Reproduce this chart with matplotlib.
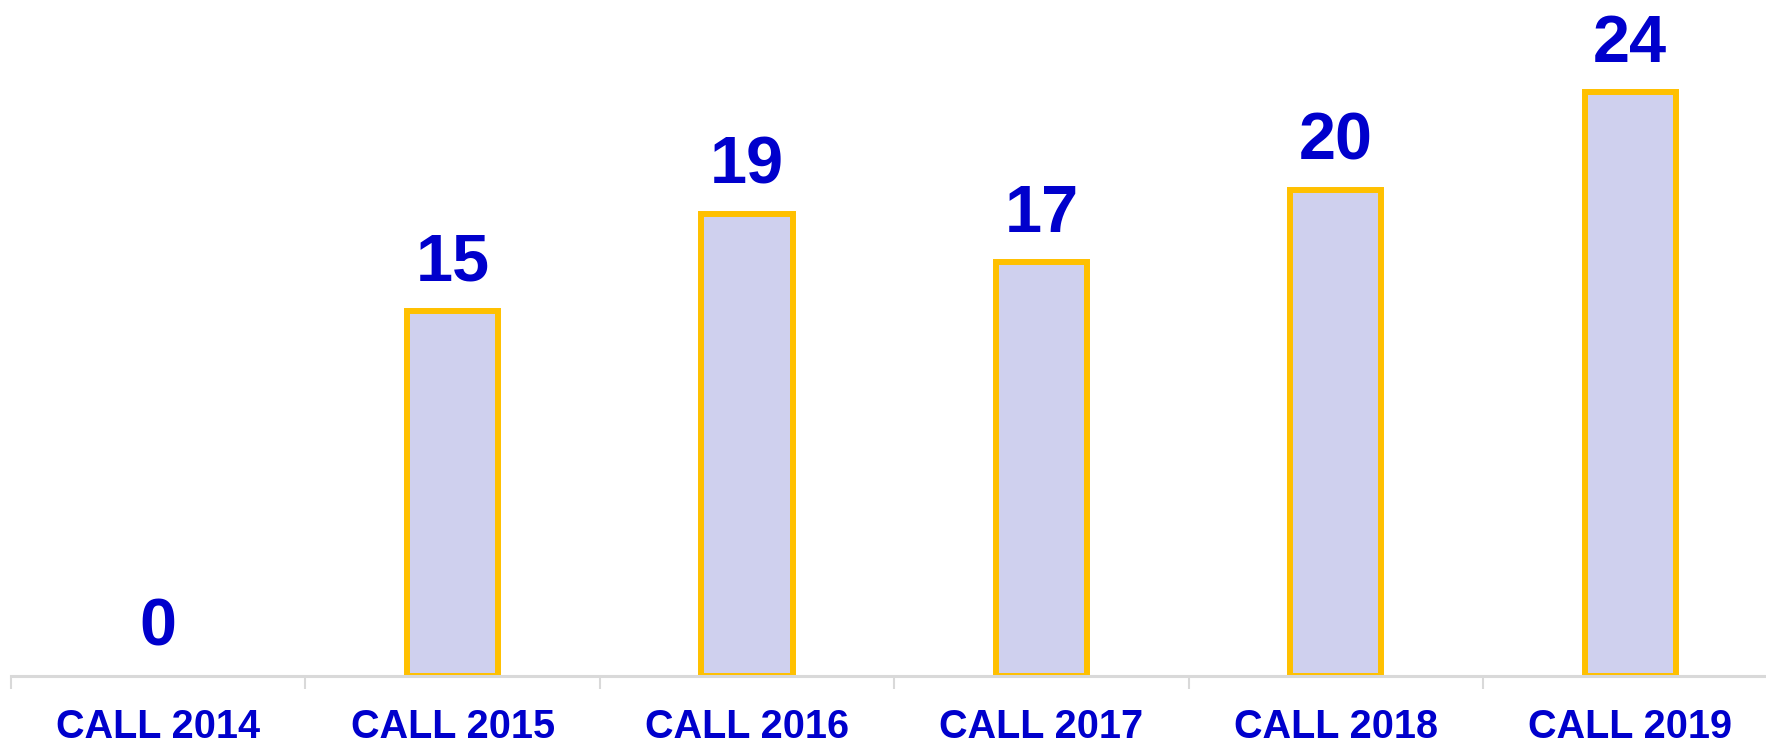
import matplotlib.pyplot as plt
from matplotlib import font_manager

calls = ['CALL 2014', 'CALL 2015', 'CALL 2016', 'CALL 2017', 'CALL 2018', 'CALL 2019']
counts = [0, 15, 19, 17, 20, 24]

names = {f.name for f in font_manager.fontManager.ttflist}
font = 'Liberation Sans Narrow' if 'Liberation Sans Narrow' in names else 'Liberation Sans'
plt.rcParams['font.family'] = [font, 'DejaVu Sans']

blue = '#0000CC'

fig = plt.figure(figsize=(17.66, 7.48), dpi=100)
ax = fig.add_axes([11 / 1766, 0.0967, 6 * 294.4 / 1766, 0.9033])

x = list(range(len(calls)))
# zero bars get no outline, like the original
edges = ['#FFC000' if v > 0 else 'none' for v in counts]
bars = ax.bar(x, counts, width=0.31, color='#CFD0EE', edgecolor=edges, linewidth=4.3)

for xi, v in zip(x, counts):
    ax.annotate(str(v), (xi, v), xytext=(0, 22), textcoords='offset points',
                ha='center', va='baseline', fontsize=48, fontweight='bold', color=blue)

ax.set_xlim(-0.5, len(calls) - 0.5)
ax.set_ylim(0, 27.8)

ax.set_xticks(x)
ax.set_xticklabels(calls, fontsize=28.5, fontweight='bold', color=blue)
ax.tick_params(axis='x', which='major', length=0, pad=23)
ax.set_xticks([i - 0.5 for i in range(len(calls) + 1)], minor=True)
ax.tick_params(axis='x', which='minor', length=9, width=1.5, color='#D9D9D9')
ax.set_yticks([])

for s in ['top', 'right', 'left']:
    ax.spines[s].set_visible(False)
ax.spines['bottom'].set_color('#D9D9D9')
ax.spines['bottom'].set_linewidth(2.2)

plt.savefig('out.png', dpi=100)
